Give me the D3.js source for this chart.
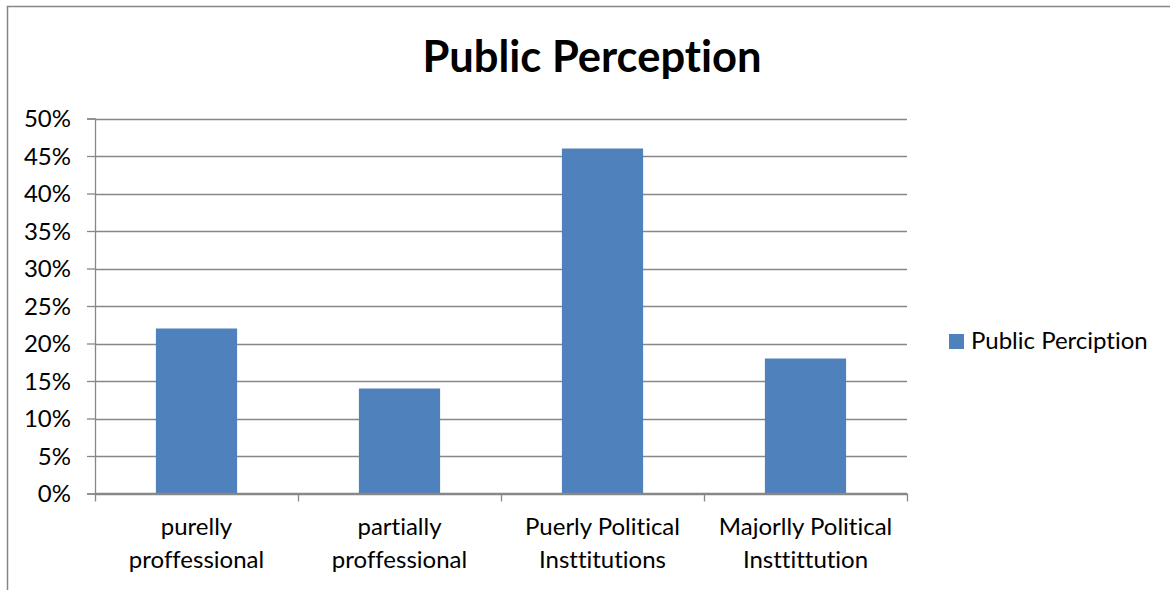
<!DOCTYPE html>
<html>
<head>
<meta charset="utf-8">
<script src="https://cdn.jsdelivr.net/npm/d3@7"></script>
<style>
  body { margin: 0; background: #fff; }
  svg { display: block; font-family: Lato, "Open Sans", sans-serif; font-variant-ligatures: none; }
</style>
</head>
<body>
<svg id="chart" width="1170" height="590"></svg>
<script>
// Chart data
const categories = [
  ["purelly", "proffessional"],
  ["partially", "proffessional"],
  ["Puerly Political", "Insttitutions"],
  ["Majorlly Political", "Insttittution"]
];
const values = [0.22, 0.14, 0.46, 0.18];
const yTicks = [0, 0.05, 0.10, 0.15, 0.20, 0.25, 0.30, 0.35, 0.40, 0.45, 0.50];
const seriesName = "Public Perciption";
const chartTitle = "Public Perception";

const svg = d3.select("#chart");
const barColor = "#4f81bd";
const gridColor = "#878787";

// outer chart frame
svg.append("rect")
  .attr("x", 7.5).attr("y", 6.5)
  .attr("width", 1200).attr("height", 700)
  .attr("fill", "none").attr("stroke", "#868686").attr("stroke-width", 1.5);

const plot = { left: 95, right: 907, top: 118.5, bottom: 493.5 };

const x = d3.scaleBand()
  .domain(d3.range(categories.length))
  .range([plot.left, plot.right])
  .paddingInner(0.6).paddingOuter(0.3);

const y = d3.scaleLinear().domain([0, 0.5]).range([plot.bottom, plot.top]);

// horizontal gridlines
svg.append("g")
  .selectAll("line")
  .data(yTicks)
  .join("line")
  .attr("x1", plot.left).attr("x2", plot.right)
  .attr("y1", d => Math.round(y(d)) + 0.5).attr("y2", d => Math.round(y(d)) + 0.5)
  .attr("stroke", gridColor).attr("stroke-width", 1.3);

// y axis
const yAxis = svg.append("g")
  .attr("transform", `translate(${plot.left},0)`)
  .call(d3.axisLeft(y).tickValues(yTicks).tickFormat(d3.format(".0%")).tickSize(8).tickPadding(16));
yAxis.select(".domain").attr("stroke", gridColor).attr("stroke-width", 1.3);
yAxis.selectAll(".tick line").attr("stroke", gridColor).attr("stroke-width", 1.3);
yAxis.selectAll(".tick text")
  .attr("fill", "#000").attr("font-size", 24)
  .attr("dy", "0.34em")
  .attr("font-family", "Lato, 'Open Sans', sans-serif");

// bars
svg.append("g")
  .selectAll("rect")
  .data(values)
  .join("rect")
  .attr("x", (d, i) => x(i))
  .attr("width", x.bandwidth())
  .attr("y", d => y(d))
  .attr("height", d => y(0) - y(d))
  .attr("fill", barColor);

// x axis with category boundary ticks
const step = (plot.right - plot.left) / categories.length;
const boundaries = d3.range(categories.length + 1).map(i => plot.left + i * step);
svg.append("line")
  .attr("x1", plot.left).attr("x2", plot.right)
  .attr("y1", plot.bottom).attr("y2", plot.bottom)
  .attr("stroke", gridColor).attr("stroke-width", 1.3);
svg.append("g")
  .selectAll("line")
  .data(boundaries)
  .join("line")
  .attr("x1", d => Math.round(d) + 0.5).attr("x2", d => Math.round(d) + 0.5)
  .attr("y1", plot.bottom).attr("y2", plot.bottom + 8)
  .attr("stroke", gridColor).attr("stroke-width", 1.3);

// category labels (two lines each)
const labels = svg.append("g")
  .selectAll("text")
  .data(categories)
  .join("text")
  .attr("x", (d, i) => x(i) + x.bandwidth() / 2)
  .attr("y", 535)
  .attr("text-anchor", "middle")
  .attr("font-size", 24)
  .attr("fill", "#000");
labels.selectAll("tspan")
  .data(d => d)
  .join("tspan")
  .attr("x", function () { return d3.select(this.parentNode).attr("x"); })
  .attr("dy", (d, i) => i === 0 ? 0 : 33)
  .text(d => d);

// title
svg.append("text")
  .attr("x", 592).attr("y", 72)
  .attr("text-anchor", "middle")
  .attr("font-size", 43.5).attr("font-weight", "bold")
  .attr("fill", "#000")
  .text(chartTitle);

// legend
const legend = svg.append("g").attr("transform", "translate(949,334)");
legend.append("rect").attr("width", 15).attr("height", 15).attr("fill", barColor);
legend.append("text")
  .attr("x", 22).attr("y", 15)
  .attr("font-size", 24).attr("fill", "#000")
  .text(seriesName);
</script>
</body>
</html>
